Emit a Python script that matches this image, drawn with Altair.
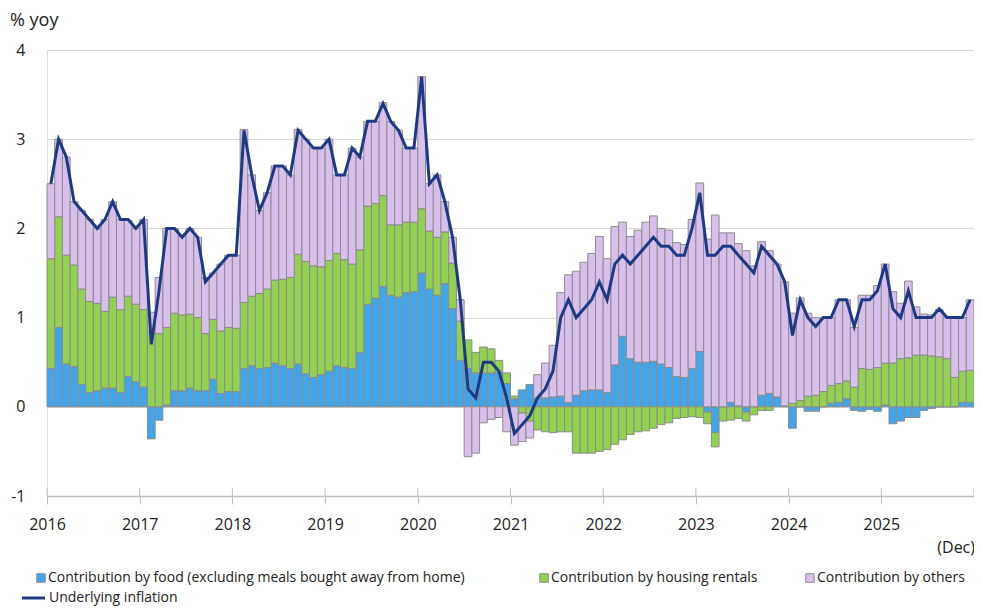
import altair as alt
import pandas as pd

# ---------------- data (monthly, Jan 2016 - Dec 2025) ----------------
years = [2016, 2017, 2018, 2019, 2020, 2021, 2022, 2023, 2024, 2025]

food = [0.43, 0.89, 0.48, 0.45, 0.25, 0.16, 0.18, 0.21, 0.21, 0.16, 0.34, 0.28,
        0.22, -0.36, -0.15, 0.02, 0.18, 0.18, 0.21, 0.18, 0.18, 0.31, 0.15, 0.17,
        0.17, 0.43, 0.46, 0.43, 0.44, 0.49, 0.46, 0.43, 0.48, 0.37, 0.33, 0.36,
        0.40, 0.46, 0.44, 0.43, 0.61, 1.15, 1.22, 1.35, 1.25, 1.23, 1.28, 1.29,
        1.50, 1.32, 1.25, 1.38, 1.10, 0.52, 0.43, 0.38, 0.38, 0.38, 0.39, 0.26,
        0.09, 0.19, 0.25, 0.10, 0.10, 0.11, 0.12, 0.05, 0.13, 0.18, 0.19, 0.19,
        0.16, 0.47, 0.79, 0.54, 0.50, 0.50, 0.51, 0.48, 0.44, 0.34, 0.33, 0.43,
        0.62, -0.06, -0.29, 0.00, 0.05, 0.01, -0.06, 0.00, 0.13, 0.15, 0.11, 0.01,
        -0.24, 0.00, -0.05, -0.05, 0.00, 0.04, 0.05, 0.09, -0.04, -0.05, -0.03, -0.05,
        0.02, -0.19, -0.16, -0.12, -0.12, -0.04, -0.02, 0.00, 0.00, 0.00, 0.05, 0.05]

housing = [1.23, 1.24, 1.22, 1.14, 1.07, 1.02, 0.98, 0.86, 1.02, 0.93, 0.90, 0.87,
           0.87, 0.84, 0.82, 0.87, 0.87, 0.85, 0.83, 0.82, 0.64, 0.67, 0.70, 0.72,
           0.71, 0.74, 0.78, 0.84, 0.88, 0.93, 0.97, 1.02, 1.23, 1.26, 1.25, 1.21,
           1.24, 1.26, 1.21, 1.17, 1.15, 1.10, 1.06, 1.02, 0.79, 0.81, 0.79, 0.78,
           0.72, 0.65, 0.65, 0.58, 0.51, 0.44, 0.32, 0.23, 0.29, 0.27, 0.13, 0.12,
           0.03, -0.07, -0.16, -0.26, -0.28, -0.29, -0.28, -0.28, -0.52, -0.52, -0.52, -0.50,
           -0.48, -0.42, -0.37, -0.31, -0.28, -0.27, -0.24, -0.20, -0.18, -0.13, -0.12, -0.11,
           -0.12, -0.13, -0.16, -0.16, -0.15, -0.13, -0.10, -0.09, -0.04, -0.04, 0.00, 0.00,
           0.04, 0.07, 0.12, 0.13, 0.17, 0.20, 0.21, 0.20, 0.22, 0.43, 0.42, 0.44,
           0.47, 0.49, 0.54, 0.55, 0.58, 0.58, 0.57, 0.56, 0.54, 0.33, 0.35, 0.36]

others = [0.84, 0.87, 1.10, 0.71, 0.88, 0.92, 0.84, 1.03, 1.07, 1.01, 0.85, 0.85,
          1.01, 0.22, 0.63, 1.11, 0.95, 0.88, 0.96, 0.90, 0.63, 0.52, 0.75, 0.81,
          0.82, 1.94, 1.36, 0.93, 1.08, 1.28, 1.27, 1.15, 1.40, 1.37, 1.32, 1.33,
          1.36, 0.88, 0.95, 1.30, 1.04, 0.95, 0.92, 1.04, 1.16, 1.06, 0.83, 0.83,
          1.48, 0.53, 0.70, 0.34, 0.29, 0.24, -0.56, -0.52, -0.18, -0.14, -0.12, -0.28,
          -0.43, -0.32, -0.19, 0.26, 0.39, 0.58, 1.16, 1.43, 1.39, 1.44, 1.53, 1.72,
          1.50, 1.55, 1.28, 1.37, 1.48, 1.57, 1.63, 1.52, 1.54, 1.50, 1.49, 1.67,
          1.89, 1.88, 2.15, 1.95, 1.90, 1.82, 1.75, 1.58, 1.72, 1.60, 1.49, 1.39,
          1.01, 1.15, 0.93, 0.87, 0.83, 0.76, 0.94, 0.91, 0.67, 0.82, 0.83, 0.92,
          1.11, 0.80, 0.62, 0.86, 0.54, 0.46, 0.46, 0.53, 0.46, 0.67, 0.60, 0.79]

underlying = [2.5, 3.0, 2.8, 2.3, 2.2, 2.1, 2.0, 2.1, 2.3, 2.1, 2.1, 2.0,
              2.1, 0.7, 1.3, 2.0, 2.0, 1.9, 2.0, 1.9, 1.4, 1.5, 1.6, 1.7,
              1.7, 3.1, 2.6, 2.2, 2.4, 2.7, 2.7, 2.6, 3.1, 3.0, 2.9, 2.9,
              3.0, 2.6, 2.6, 2.9, 2.8, 3.2, 3.2, 3.4, 3.2, 3.1, 2.9, 2.9,
              3.7, 2.5, 2.6, 2.3, 1.9, 1.2, 0.2, 0.1, 0.5, 0.5, 0.4, 0.1,
              -0.3, -0.2, -0.1, 0.1, 0.2, 0.4, 1.0, 1.2, 1.0, 1.1, 1.2, 1.4,
              1.2, 1.6, 1.7, 1.6, 1.7, 1.8, 1.9, 1.8, 1.8, 1.7, 1.7, 2.0,
              2.4, 1.7, 1.7, 1.8, 1.8, 1.7, 1.6, 1.5, 1.8, 1.7, 1.6, 1.4,
              0.8, 1.2, 1.0, 0.9, 1.0, 1.0, 1.2, 1.2, 0.9, 1.2, 1.2, 1.3,
              1.6, 1.1, 1.0, 1.3, 1.0, 1.0, 1.0, 1.1, 1.0, 1.0, 1.0, 1.2]

series_names = ["Contribution by food (excluding meals bought away from home)",
                "Contribution by housing rentals",
                "Contribution by others"]
line_name = "Underlying inflation"
y_title = "% yoy"
end_note = "(Dec)"
y_ticks = [-1, 0, 1, 2, 3, 4]

colors = ["#41A5EB", "#92D050", "#D9BFEB"]
line_color = "#1F3A85"
bar_stroke = "#8C8C8C"
FONT = "Open Sans"
TEXT = "#222222"

# ---------------- tables ----------------
n = len(underlying)
rows = []
for k, (name, vals) in enumerate(zip(series_names, [food, housing, others])):
    for i, v in enumerate(vals):
        rows.append({"m": i, "m1": i + 1, "series": name, "k": k, "value": v})
bars_df = pd.DataFrame(rows)
line_df = pd.DataFrame({"mid": [i + 0.5 for i in range(n)], "value": underlying})
tick_df = pd.DataFrame({"t": [12 * j for j in range(len(years) + 1)]})

W, H = 927, 446
xscale = alt.Scale(domain=[0, n], nice=False, zero=False)
yscale = alt.Scale(domain=[y_ticks[0], y_ticks[-1]], nice=False)

x_axis = alt.Axis(values=list(tick_df["t"]),
                  labelExpr="datum.value < %d ? '' + (%d + datum.value / 12) : ''" % (n, years[0]),
                  title=None, grid=False, domainColor="#BFBFBF", domainWidth=1.5,
                  tickColor="#BFBFBF", tickWidth=1, tickSize=8, labelPadding=12,
                  labelFontSize=16, labelFont=FONT, labelColor=TEXT, labelFlush=False)
y_axis = alt.Axis(values=y_ticks, labelExpr="'' + datum.value", title=None, grid=True,
                  gridColor="#D9D9D9", gridWidth=1, domain=False, ticks=False,
                  labelPadding=22, labelFontSize=16, labelFont=FONT, labelColor=TEXT)

bars = alt.Chart(bars_df).transform_stack(
    stack="value", as_=["v0", "v1"], groupby=["m"],
    sort=[alt.SortField("k", order="ascending")], offset="zero"
).mark_bar(stroke=bar_stroke, strokeWidth=1).encode(
    x=alt.X("m:Q", scale=xscale, axis=x_axis),
    x2="m1:Q",
    y=alt.Y("v0:Q", scale=yscale, axis=y_axis),
    y2="v1:Q",
    color=alt.Color("series:N", scale=alt.Scale(domain=series_names, range=colors), legend=None),
)

line = alt.Chart(line_df).mark_line(color=line_color, strokeWidth=3, strokeJoin="miter").encode(
    x=alt.X("mid:Q", scale=xscale),
    y=alt.Y("value:Q", scale=yscale),
)

up_ticks = alt.Chart(tick_df).mark_rule(color="#BFBFBF", strokeWidth=1).encode(
    x=alt.X("t:Q", scale=xscale),
    y=alt.value(H),
    y2=alt.value(H - 8),
)

title_txt = alt.Chart().mark_text(text=y_title, align="left", baseline="middle",
                                   fontSize=18, font=FONT, color=TEXT).encode(
    x=alt.value(-37), y=alt.value(-29))
dec_txt = alt.Chart().mark_text(text=end_note, align="right", baseline="middle",
                                 fontSize=16, font=FONT, color=TEXT).encode(
    x=alt.value(W + 1), y=alt.value(498))

legend_layers = []
sw_x = [-6, 497, 763]
row1, row2 = 528, 548
for name, col, sx in zip(series_names, colors, sw_x):
    legend_layers.append(alt.Chart().mark_square(size=72, fill=col, stroke=bar_stroke,
                                                 strokeWidth=1, opacity=1).encode(
        x=alt.value(sx), y=alt.value(row1)))
    legend_layers.append(alt.Chart().mark_text(text=name, align="left", baseline="middle",
                                               fontSize=14, font=FONT, color=TEXT).encode(
        x=alt.value(sx + 7), y=alt.value(row1)))
legend_layers.append(alt.Chart().mark_rule(color=line_color, strokeWidth=3).encode(
    x=alt.value(-25), x2=alt.value(-2), y=alt.value(row2)))
legend_layers.append(alt.Chart().mark_text(text=line_name, align="left", baseline="middle",
                                           fontSize=14, font=FONT, color=TEXT).encode(
    x=alt.value(2), y=alt.value(row2)))

chart = alt.layer(bars, up_ticks, line, title_txt, dec_txt, *legend_layers).properties(
    width=W, height=H,
    autosize=alt.AutoSizeParams(type="none"),
    padding={"left": 39, "top": 42, "right": 0, "bottom": 110},
).configure_view(stroke=None).configure(font=FONT)

chart.save("out.html", embed_options={"renderer": "svg", "actions": False})
